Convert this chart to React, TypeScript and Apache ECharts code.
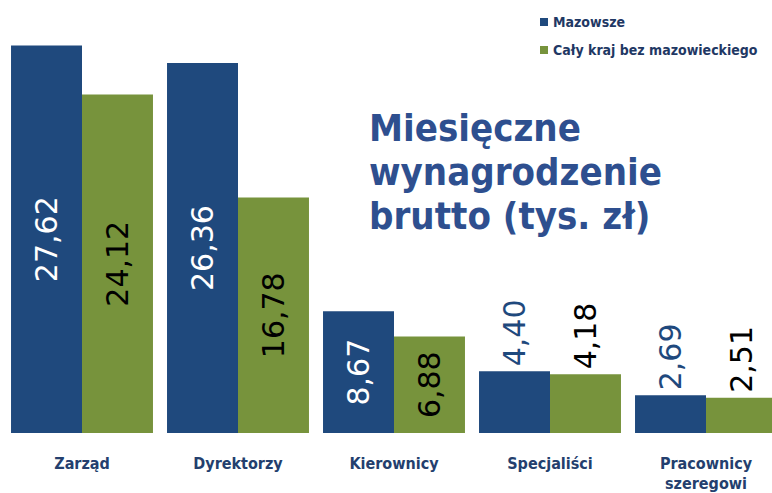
import React, { useEffect, useRef } from "react";
import * as echarts from "echarts";

const categories = ["Zarząd", "Dyrektorzy", "Kierownicy", "Specjaliści", "Pracownicy\nszeregowi"];
const mazowsze = [27.62, 26.36, 8.67, 4.4, 2.69];
const kraj = [24.12, 16.78, 6.88, 4.18, 2.51];
const seriesNames = ["Mazowsze", "Cały kraj bez mazowieckiego"];
const titleLines = ["Miesięczne", "wynagrodzenie", "brutto (tys. zł)"];

const BLUE = "#1f497d";
const GREEN = "#77933c";
const COND = "'DejaVu Sans Condensed', 'DejaVu Sans', sans-serif";
const fmt = (v: number) => v.toFixed(2).replace(".", ",");

function makeData(values: number[], insideColor: string, topColor: string) {
  return values.map((v) => {
    const inside = v > 6;
    return {
      value: v,
      label: inside
        ? { position: "inside", rotate: 90, color: insideColor, align: "center", verticalAlign: "middle" }
        : { position: "top", rotate: 90, color: topColor, align: "left", verticalAlign: "middle", distance: 5 },
    };
  });
}

export default function App() {
  const ref = useRef<HTMLDivElement>(null);
  useEffect(() => {
    document.body.style.margin = "0";
    const chart = echarts.init(ref.current!, null, { renderer: "svg" });
    const labelBase = {
      show: true,
      fontFamily: "DejaVu Sans, sans-serif",
      fontSize: 30,
      formatter: (p: any) => fmt(p.value),
    };
    chart.setOption({
      animation: false,
      backgroundColor: "#ffffff",
      grid: { left: 4, right: -12, top: 12, bottom: 60, containLabel: false, outerBoundsMode: "none" },
      legend: {
        orient: "vertical",
        left: 535,
        top: 10,
        itemWidth: 8,
        itemHeight: 8,
        itemGap: 14,
        icon: "rect",
        textStyle: { fontFamily: COND, fontWeight: "bold", fontSize: 14, color: "#1f3864" },
        data: seriesNames,
      },
      graphic: [
        {
          type: "text",
          left: 369,
          top: 106,
          style: {
            text: titleLines.join("\n"),
            font: "bold 38px 'DejaVu Sans Condensed', 'DejaVu Sans', sans-serif",
            fill: "#2e4f8f",
            lineHeight: 44,
          },
        },
      ],
      xAxis: {
        type: "category",
        data: categories,
        axisLine: { show: false },
        axisTick: { show: false },
        axisLabel: {
          margin: 20,
          fontFamily: COND,
          fontWeight: "bold",
          fontSize: 16,
          color: "#243f6e",
          lineHeight: 20,
          interval: 0,
        },
      },
      yAxis: {
        type: "value",
        min: 0,
        max: 30,
        show: false,
        splitLine: { show: false },
      },
      series: [
        {
          name: seriesNames[0],
          type: "bar",
          barGap: "0%",
          barCategoryGap: "9%",
          itemStyle: { color: BLUE },
          label: labelBase,
          data: makeData(mazowsze, "#ffffff", "#1f497d"),
        },
        {
          name: seriesNames[1],
          type: "bar",
          itemStyle: { color: GREEN },
          label: labelBase,
          data: makeData(kraj, "#000000", "#000000"),
        },
      ],
    });
    return () => chart.dispose();
  }, []);
  return <div ref={ref} style={{ width: 772, height: 493 }} />;
}
